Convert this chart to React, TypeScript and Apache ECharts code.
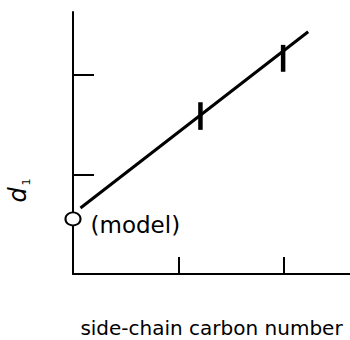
import React, { useEffect, useRef } from "react";
import * as echarts from "echarts";

const xTicks = [1, 2];
const yTicks = [1, 2];
const xMax = 2.63;
const yMax = 2.63;
const fitLine: number[][] = [[0.071, 0.663], [2.233, 2.432]];
const modelPoint: number[][] = [[0, 0.553]];
const errorBars: number[][] = [
  [1.21, 1.447, 1.724],
  [1.995, 2.03, 2.3],
];
const xTitle = "side-chain carbon number";
const yTitleMain = "d";
const yTitleSub = "1";
const modelLabel = "(model)";

export default function App() {
  const ref = useRef<HTMLDivElement>(null);
  useEffect(() => {
    document.body.style.margin = "0";
    const chart = echarts.init(ref.current!, null, { renderer: "svg" });
    const font = "DejaVu Sans";
    chart.setOption({
      animation: false,
      backgroundColor: "#fff",
      textStyle: { fontFamily: font },
      grid: { left: 73, top: 12, right: 0, bottom: 66, containLabel: false, outerBoundsMode: "none" },
      xAxis: {
        type: "value",
        min: 0,
        max: xMax,
        interval: 1,
        axisLine: { show: true, lineStyle: { color: "#000", width: 2 } },
        axisTick: {
          show: true,
          inside: true,
          length: 17,
          customValues: xTicks,
          lineStyle: { color: "#000", width: 2 },
        },
        axisLabel: { show: false },
        splitLine: { show: false },
        name: xTitle,
        nameLocation: "middle",
        nameGap: 44,
        nameTextStyle: { fontSize: 20, color: "#000", fontFamily: font },
      },
      yAxis: {
        type: "value",
        min: 0,
        max: yMax,
        interval: 1,
        axisLine: { show: true, lineStyle: { color: "#000", width: 2 } },
        axisTick: {
          show: true,
          inside: true,
          length: 21,
          customValues: yTicks,
          lineStyle: { color: "#000", width: 2 },
        },
        axisLabel: { show: false },
        splitLine: { show: false },
      },
      graphic: {
        elements: [
          {
            type: "group",
            x: 18,
            y: 195,
            rotation: Math.PI / 2,
            silent: true,
            children: [
              {
                type: "text",
                x: 0,
                y: 0,
                style: {
                  text: yTitleMain,
                  fontSize: 24,
                  fontStyle: "italic",
                  fontFamily: font,
                  fill: "#000",
                  align: "center",
                  verticalAlign: "middle",
                },
              },
              {
                type: "text",
                x: 13,
                y: 8,
                style: {
                  text: yTitleSub,
                  fontSize: 11,
                  fontFamily: font,
                  fill: "#000",
                  align: "center",
                  verticalAlign: "middle",
                },
              },
            ],
          },
        ],
      },
      series: [
        {
          type: "line",
          data: fitLine,
          symbol: "none",
          lineStyle: { color: "#000", width: 3 },
          z: 2,
        },
        {
          type: "custom",
          data: errorBars,
          z: 3,
          renderItem: (params: any, api: any) => {
            const hi = api.coord([api.value(0), api.value(2)]);
            const lo = api.coord([api.value(0), api.value(1)]);
            return {
              type: "line",
              shape: { x1: hi[0], y1: hi[1], x2: lo[0], y2: lo[1] },
              style: { stroke: "#000", lineWidth: 4.5 },
            };
          },
        },
        {
          type: "scatter",
          data: modelPoint,
          symbol: "circle",
          symbolSize: [15, 13],
          itemStyle: { color: "#fff", borderColor: "#000", borderWidth: 2, opacity: 1 },
          z: 4,
          label: {
            show: true,
            position: "right",
            distance: 9,
            offset: [0, 6],
            formatter: modelLabel,
            fontSize: 23,
            color: "#000",
            opacity: 1,
            fontFamily: font,
          },
        },
      ],
    });
    return () => chart.dispose();
  }, []);
  return (
    <div
      ref={ref}
      style={{ width: 350, height: 340, position: "fixed", left: 0, top: 0 }}
    />
  );
}
